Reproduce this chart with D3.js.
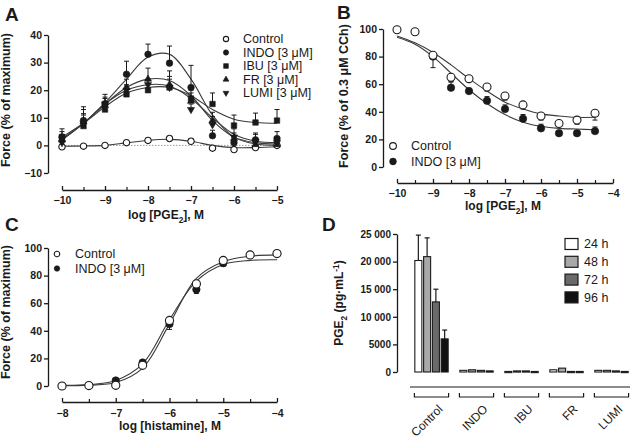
<!DOCTYPE html>
<html><head><meta charset="utf-8">
<script src="https://cdn.jsdelivr.net/npm/d3@7"></script>
<style>
body{margin:0;background:#fff}
svg{display:block}
text{font-family:"Liberation Sans",Arial,Helvetica,sans-serif;fill:#1a1a1a}
</style>
</head><body>
<svg id="c" width="630" height="441"></svg>
<script>
// ---------------- Panel A data ----------------
const aDoses = [-10,-9.5,-9,-8.5,-8,-7.5,-7,-6.5,-6,-5.5,-5];
const aControl = [-0.5,-0.3,0,1,1.8,2.5,1.5,-1,-1.5,-0.8,0];
const aIndo    = [3,9,15,25.8,33,29.8,21,3.5,1,2,2.5];
const aIbu     = [3,7,13,18.5,20,21,17,15,7.2,8.3,9];
const aFr      = [2,8.5,14.5,21,24,22,16,9,2.5,0.3,0.3];
const aLumi    = [1,8,15,20,22,21,13,7.5,3,1.5,1];
const aControlErr = [0.8,0.6,0.6,0.8,0.8,0.8,1,0.8,0.8,0.8,0.8];
const aIndoErr = [3,5,3.5,4.7,3.7,6.2,8,2,2,2,2.5];
const aIbuErr  = [2,4,3,3,4,6,3,4,3.8,3.4,4];
const aFrErr   = [2,3,3,3,4,3,3,3,2,2,2];
const aLumiErr = [2,5,2,2,2,3,2,3,3,3,2];
// fitted curves read at the same doses
const aControlFit = [-0.3,-0.2,0,0.9,1.8,2.2,1.5,0,-0.8,-0.8,-0.5];
const aIndoFit = [2.5,8,15.5,24,32,33,24,11,3,0.5,0];
const aIbuFit  = [3,8,14,19,21,21,18,13,9.5,8.3,8];
const aFrFit   = [2,8,15,21,24,23.5,18,9,3,1,0.5];
const aLumiFit = [2,8,15,20,22,21.5,17,10,4,1.5,1];
const aLegend = ["Control","INDO [3 \u03bcM]","IBU [3 \u03bcM]","FR [3 \u03bcM]","LUMI [3 \u03bcM]"];
const aXTicks = [-10,-9,-8,-7,-6,-5];
const aYTicks = [-10,0,10,20,30,40];

// ---------------- Panel B data ----------------
const bDoses = [-10,-9.5,-9,-8.5,-8,-7.5,-7,-6.5,-6,-5.5,-5,-4.5];
const bControl = [99.5,98,81,65,64,58,51.5,45,37,31.5,34,39];
const bIndo    = [null,null,80,57.5,55,48,42,35,28,24.5,24.5,26];
const bControlErr = [0,0,9,3,2,3,3,3,3,2,3,5];
const bIndoErr    = [0,0,0,4,2,3,3,3,3,2,2,3];
const bControlFit = [95,90,83,74,64,55,47,42,38.5,37,36,36];
const bIndoFit    = [94,89,80,68,56,46,38,32.5,29.5,28,27.5,27];
const bLegend = ["Control","INDO [3 \u03bcM]"];
const bXTicks = [-10,-9,-8,-7,-6,-5,-4];
const bYTicks = [0,20,40,60,80,100];

// ---------------- Panel C data ----------------
const cDoses = [-8,-7.5,-7,-6.5,-6,-5.5,-5,-4.5,-4];
const cControl = [0,0.3,0.5,15,47.5,74,91,95,96];
const cIndo    = [0,0.3,4,17,45,70,89,95,96];
const cControlErr = [0,0,0,1.5,2,2,2,2,1];
const cIndoErr    = [0,0,0,1.5,-4,-3,-2,1,1];
const cControlFit = [0.2,0.6,2.5,13,45,78,90,94,95];
const cIndoFit    = [0.5,1,4,16,48,76,88,91,91.5];
const cLegend = ["Control","INDO [3 \u03bcM]"];
const cXTicks = [-8,-7,-6,-5,-4];
const cYTicks = [0,20,40,60,80,100];

// ---------------- Panel D data ----------------
const dGroups = ["Control","INDO","IBU","FR","LUMI"];
const dTimes = ["24 h","48 h","72 h","96 h"];
const d24 = [20200,300,100,400,300];
const d48 = [20900,400,200,700,300];
const d72 = [12700,300,200,100,200];
const d96 = [6000,200,100,100,100];
const d24Err = [4600,0,0,0,0];
const d48Err = [3400,0,0,0,0];
const d72Err = [2300,0,0,0,0];
const d96Err = [1600,0,0,0,0];
const dYTicks = [0,5000,10000,15000,20000,25000];
const dColors = ["#ffffff","#a8a8a8","#6a6a6a","#111111"];

// ================= drawing =================
const svg = d3.select("#c");
const INK = "#1a1a1a";

function panelLetter(t, x, y){
  svg.append("text").attr("x",x).attr("y",y).attr("font-size",19).attr("font-weight","bold").text(t);
}

function yAxis(scale, x, ticks, fmt, fs){
  const g = svg.append("g").attr("transform",`translate(${x},0)`)
    .call(d3.axisLeft(scale).tickValues(ticks).tickSizeInner(4).tickSizeOuter(0).tickPadding(2).tickFormat(fmt||d3.format("d")));
  g.selectAll("path,line").attr("stroke",INK).attr("stroke-width",1.3);
  g.selectAll("text").attr("font-size",fs||10.5).attr("font-weight","bold").attr("fill",INK).attr("font-family",null);
  return g;
}
function xAxis(scale, y, ticks, pad){
  const minor = [];
  for(let i=0;i<ticks.length-1;i++) minor.push((ticks[i]+ticks[i+1])/2);
  const g = svg.append("g").attr("transform",`translate(0,${y})`)
    .call(d3.axisBottom(scale).tickValues(ticks).tickSizeInner(-4).tickSizeOuter(0).tickPadding(pad).tickFormat(d3.format("d")));
  g.selectAll("path,line").attr("stroke",INK).attr("stroke-width",1.3);
  g.selectAll("text").attr("font-size",10.5).attr("font-weight","bold").attr("fill",INK).attr("font-family",null);
  const g2 = svg.append("g").attr("transform",`translate(0,${y})`)
    .call(d3.axisBottom(scale).tickValues(minor).tickSizeInner(-3).tickSizeOuter(0).tickFormat(""));
  g2.select("path").remove();
  g2.selectAll("line").attr("stroke",INK).attr("stroke-width",1.2);
}
function yTitle(cx, cy, parts, fs){
  const t = svg.append("text").attr("transform",`translate(${cx},${cy}) rotate(-90)`)
    .attr("text-anchor","middle").attr("dy","0.35em").attr("font-size",fs).attr("font-weight","bold");
  addParts(t, parts, fs);
}
function xTitle(cx, cy, parts, fs){
  const t = svg.append("text").attr("x",cx).attr("y",cy).attr("text-anchor","middle")
    .attr("dy","0.35em").attr("font-size",fs).attr("font-weight","bold");
  addParts(t, parts, fs);
}
function addParts(t, parts, fs){
  let shift = 0;
  parts.forEach(p=>{
    const [s, kind] = Array.isArray(p) ? p : [p, null];
    let want = kind==="sub" ? fs*0.3 : kind==="sup" ? -fs*0.35 : 0;
    const ts = t.append("tspan").text(s).attr("dy", want - shift);
    if(kind) ts.attr("font-size", fs*0.7);
    shift = want;
  });
}

const symMap = {
  circle: d3.symbol().type(d3.symbolCircle),
  square: d3.symbol().type(d3.symbolSquare),
  tri: d3.symbol().type(d3.symbolTriangle),
  trid: d3.symbol().type(d3.symbolTriangle)
};
function marker(g, type, x, y, size, open){
  g.append("path").attr("d", symMap[type].size(size)())
    .attr("transform",`translate(${x},${y})${type==="trid"?" rotate(180)":""}`)
    .attr("fill", open ? "#fff" : INK).attr("stroke", INK).attr("stroke-width", open?1.1:0.6);
}

function series(xs, ys, errs, fit, xS, yS, type, size, open, errDir){
  const g = svg.append("g");
  const line = d3.line().defined((d,i)=>fit[i]!=null).x((d,i)=>xS(xs[i])).y((d,i)=>yS(fit[i])).curve(d3.curveCatmullRom.alpha(0.5));
  g.append("path").attr("d", line(xs)).attr("fill","none").attr("stroke","#3a3a3a").attr("stroke-width",1.1);
  return {g, draw(){
    xs.forEach((x,i)=>{
      if(ys[i]==null) return;
      const e = errs[i]*(errDir||1);
      if(Math.abs(e) > 0.01){
        const y0 = yS(ys[i]), y1 = yS(ys[i]+e), px = xS(x);
        svg.append("line").attr("x1",px).attr("x2",px).attr("y1",y0).attr("y2",y1).attr("stroke",INK).attr("stroke-width",1);
        svg.append("line").attr("x1",px-2.5).attr("x2",px+2.5).attr("y1",y1).attr("y2",y1).attr("stroke",INK).attr("stroke-width",1);
      }
    });
    const mg = svg.append("g");
    xs.forEach((x,i)=>{ if(ys[i]!=null) marker(mg, type, xS(x), yS(ys[i]), size, open); });
  }};
}

function legend(items, x0, xt, ys, fs){
  items.forEach((it,i)=>{
    const g = svg.append("g");
    marker(g, it.type, x0, ys[i], it.size, it.open);
    svg.append("text").attr("x",xt).attr("y",ys[i]).attr("dy","0.35em").attr("font-size",fs).text(it.label);
  });
}

// ---------- Panel A ----------
{
  const xS = d3.scaleLinear([-10,-5],[62,277]);
  const yS = d3.scaleLinear([-10,40],[173,35]);
  panelLetter("A",5,21);
  svg.append("line").attr("x1",xS(-10)).attr("x2",xS(-5)).attr("y1",yS(0)).attr("y2",yS(0))
    .attr("stroke","#9a9a9a").attr("stroke-width",1).attr("stroke-dasharray","1.5,1.5");
  yAxis(yS,48,aYTicks);
  xAxis(xS,190,aXTicks,7);
  yTitle(10,100,["Force (% of maximum)"],12.5);
  xTitle(166,219,["log [PGE",["2","sub"],"], M"],12);
  const s = [
    series(aDoses,aControl,aControlErr,aControlFit,xS,yS,"circle",32,true),
    series(aDoses,aLumi,aLumiErr,aLumiFit,xS,yS,"trid",22,false),
    series(aDoses,aFr,aFrErr,aFrFit,xS,yS,"tri",22,false),
    series(aDoses,aIbu,aIbuErr,aIbuFit,xS,yS,"square",30,false),
    series(aDoses,aIndo,aIndoErr,aIndoFit,xS,yS,"circle",34,false)
  ];
  s.forEach(o=>o.draw());
  const types = [["circle",true,22],["circle",false,22],["square",false,22],["tri",false,15],["trid",false,15]];
  legend(aLegend.map((l,i)=>({label:l,type:types[i][0],open:types[i][1],size:types[i][2]})),226,243,[39,52.5,66,79.5,93],12.5);
}

// ---------- Panel B ----------
{
  const xS = d3.scaleLinear([-10,-4],[397,613]);
  const yS = d3.scaleLinear([0,100],[167,29]);
  panelLetter("B",337,19);
  yAxis(yS,383,bYTicks);
  xAxis(xS,183,bXTicks,7);
  yTitle(348,96,["Force (% of 0.3 \u03bcM CCh)"],12.5);
  xTitle(503,210,["log [PGE",["2","sub"],"], M"],12);
  const s = [
    series(bDoses,bIndo,bIndoErr,bIndoFit,xS,yS,"circle",44,false,1),
    series(bDoses,bControl,bControlErr,bControlFit,xS,yS,"circle",50,true,-1)
  ];
  s.forEach(o=>o.draw());
  legend(bLegend.map((l,i)=>({label:l,type:"circle",open:i===0,size:36})),393,411,[146,161.5],12.5);
}

// ---------- Panel C ----------
{
  const xS = d3.scaleLinear([-8,-4],[62,277]);
  const yS = d3.scaleLinear([0,100],[386,248]);
  panelLetter("C",5,231);
  yAxis(yS,48,cYTicks);
  xAxis(xS,402,cXTicks,8);
  yTitle(10,312,["Force (% of maximum)"],12.5);
  xTitle(170,430,["log [histamine], M"],12);
  const s = [
    series(cDoses,cIndo,cIndoErr,cIndoFit,xS,yS,"circle",44,false,1),
    series(cDoses,cControl,cControlErr,cControlFit,xS,yS,"circle",52,true,1)
  ];
  s.forEach(o=>o.draw());
  legend(cLegend.map((l,i)=>({label:l,type:"circle",open:i===0,size:24})),57,75,[254,268.5],12.5);
}

// ---------- Panel D ----------
{
  const yS = d3.scaleLinear([0,25000],[372,234]);
  const xG = d3.scaleBand(dGroups,[409,634]).paddingInner(0.24).paddingOuter(0.12);
  const xT = d3.scaleBand(dTimes,[0,xG.bandwidth()]).paddingInner(0.2).paddingOuter(0.05);
  panelLetter("D",322,231);
  const fmt = d => d>=10000 ? d3.format(",")(d).replace(","," ") : String(d);
  yAxis(yS,397,dYTicks,fmt,10);
  yTitle(343,303,["PGE",["2","sub"]," (pg\u00b7mL",["-1","sup"],")"],12);
  const vals = [d24,d48,d72,d96], errs = [d24Err,d48Err,d72Err,d96Err];
  dGroups.forEach((grp,gi)=>{
    dTimes.forEach((t,ti)=>{
      const x = xG(grp)+xT(t), w = xT.bandwidth();
      const v = vals[ti][gi], e = errs[ti][gi];
      if(e>0){
        const cx = x+w/2;
        svg.append("line").attr("x1",cx).attr("x2",cx).attr("y1",yS(v)).attr("y2",yS(v+e)).attr("stroke",INK).attr("stroke-width",1.2);
        svg.append("line").attr("x1",cx-2.5).attr("x2",cx+2.5).attr("y1",yS(v+e)).attr("y2",yS(v+e)).attr("stroke",INK).attr("stroke-width",1.2);
      }
      svg.append("rect").attr("x",x).attr("y",yS(v)).attr("width",w).attr("height",Math.max(yS(0)-yS(v),1.2))
        .attr("fill",dColors[ti]).attr("stroke",INK).attr("stroke-width",1.1);
    });
    // group bracket
    const b0 = xG(grp), b1 = xG(grp)+xG.bandwidth();
    svg.append("path").attr("d",`M${b0},393V397H${b1}V393`).attr("fill","none").attr("stroke",INK).attr("stroke-width",1.2);
    const cx = b0 + xG.bandwidth()/2;
    svg.append("text").attr("transform",`translate(${cx+9},${407}) rotate(-45)`).attr("text-anchor","end")
      .attr("dy","0.35em").attr("font-size",12).text(grp);
  });
  svg.append("line").attr("x1",410).attr("x2",630).attr("y1",387).attr("y2",387).attr("stroke",INK).attr("stroke-width",1.2);
  // legend
  dTimes.forEach((t,i)=>{
    const y = 244 + i*17.8;
    svg.append("rect").attr("x",565).attr("y",y-5.5).attr("width",13).attr("height",11)
      .attr("fill",dColors[i]).attr("stroke",INK).attr("stroke-width",1.2);
    svg.append("text").attr("x",584).attr("y",y).attr("dy","0.35em").attr("font-size",12.5).text(t);
  });
}
</script>
</body></html>
